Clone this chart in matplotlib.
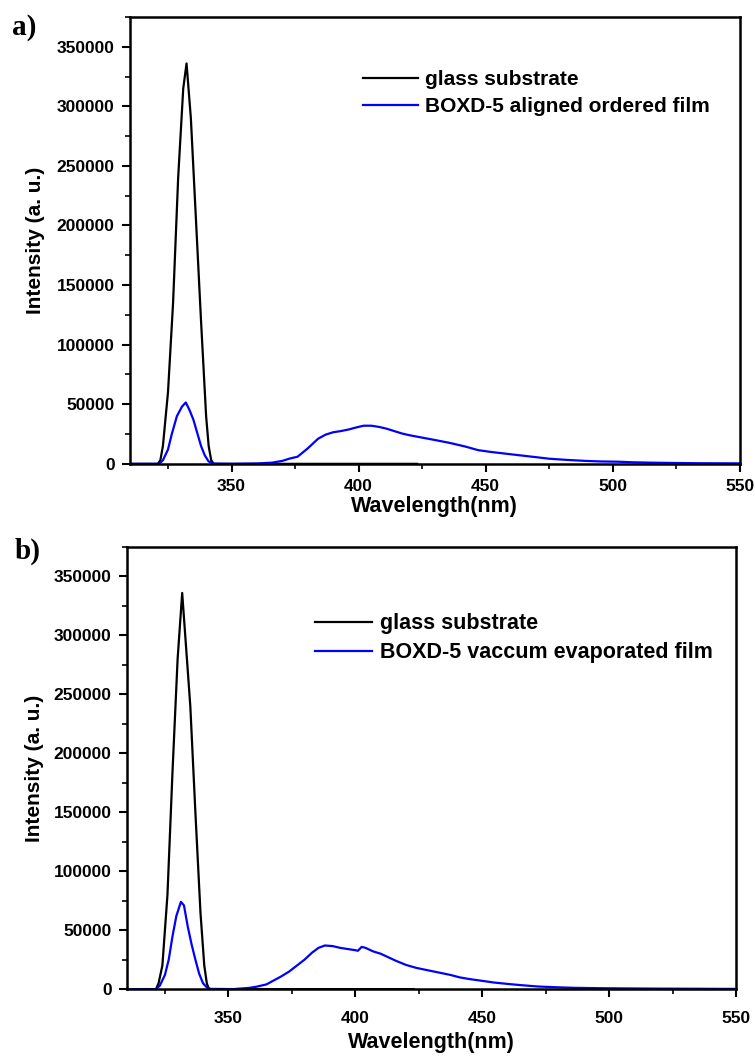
import numpy as np
import matplotlib
matplotlib.use('Agg')
import matplotlib.pyplot as plt
from matplotlib.ticker import MultipleLocator

plt.rcParams['font.family'] = ['Liberation Sans', 'DejaVu Sans']
plt.rcParams['font.weight'] = 'bold'

# glass substrate (panel a)
glass_a_wl = [310, 321, 322, 323, 325, 327, 329, 331, 332.3, 334, 336, 338, 340,
              341, 342, 343, 423]
glass_a_int = [0, 0, 3000, 15000, 60000, 135000, 240000, 315000, 336000, 290000,
               205000, 120000, 40000, 15000, 3000, 0, 0]

# BOXD-5 aligned ordered film (panel a)
film_a_wl = [310, 321.5, 323, 325, 326.5, 328.5, 330.5, 332, 333.5, 335, 336.5,
             338, 339.5, 341, 343, 350, 360, 366, 370, 373, 376, 380, 384, 387,
             390, 393, 396, 399, 402, 405, 408, 411, 414, 417, 420, 425, 430,
             436, 442, 447, 452, 456, 462, 469, 475, 482, 489, 495, 502, 508,
             515, 525, 535, 550]
film_a_int = [0, 0, 3000, 12000, 25000, 40000, 48000, 51500, 45000, 37000, 26000,
              15000, 7000, 2000, 200, 0, 300, 1000, 2500, 4500, 6000, 13000,
              21000, 24500, 26500, 27500, 28800, 30500, 32000, 32000, 31000,
              29500, 27500, 25500, 24000, 22000, 20000, 17500, 14500, 11500,
              10000, 9000, 7500, 5800, 4300, 3300, 2500, 2000, 1800, 1300, 1000,
              700, 500, 400]

# glass substrate (panel b)
glass_b_wl = [310, 321.5, 322.5, 324, 326, 328, 330, 331.8, 333, 335, 337, 339,
              340.5, 341.5, 342.3, 423]
glass_b_int = [0, 0, 5000, 20000, 80000, 185000, 280000, 336000, 300000, 240000,
               150000, 65000, 20000, 5000, 0, 0]

# BOXD-5 vaccum evaporated film (panel b)
film_b_wl = [310, 321.5, 323, 325, 326.5, 328, 329.5, 331.3, 332.5, 334, 335.5,
             337, 338.5, 340, 341.5, 343, 352, 358, 361, 365, 368, 371, 374, 377,
             380, 383, 385.5, 388, 391, 394, 397, 400, 401, 402.5, 404, 407, 410,
             413, 416, 420, 424, 428.5, 433, 437.5, 441, 445, 450, 454.5, 460,
             465, 472, 480, 486, 495, 505, 520, 535, 545, 550]
film_b_int = [0, 0, 3000, 12000, 25000, 45000, 62000, 74000, 71000, 53000, 38000,
              25000, 13000, 5000, 1500, 200, 0, 1000, 2000, 4000, 7500, 11000,
              15000, 20000, 25000, 31000, 35000, 37000, 36500, 35000, 34000,
              33000, 32500, 35800, 35000, 32000, 30000, 27000, 24000, 20500,
              18000, 16000, 14000, 12000, 10000, 8500, 7000, 5600, 4400, 3400,
              2200, 1500, 1100, 800, 600, 400, 300, 200, 200]

panels = [
    ('a)', 'BOXD-5 aligned ordered film', glass_a_wl, glass_a_int, film_a_wl, film_a_int),
    ('b)', 'BOXD-5 vaccum evaporated film', glass_b_wl, glass_b_int, film_b_wl, film_b_int),
]

fig = plt.figure(figsize=(7.55, 10.59), dpi=100)
ax_a = fig.add_axes([0.172, 0.562, 0.808, 0.422])
ax_b = fig.add_axes([0.168, 0.066, 0.807, 0.4175])

leg_pos = [(0.382, 0.881), (0.309, 0.850)]
leg_size = [15, 15.5]
tag_pos = [(0.016, 0.974), (0.020, 0.479)]
xpads = [5, 10]
xlabpads = [1, 4]
ylabpads = [8, 7]

for i, ax in enumerate([ax_a, ax_b]):
    tag, film_label, gw, gi, fw, fi = panels[i]
    ax.plot(gw, gi, color='black', lw=1.6, label='glass substrate')
    ax.plot(fw, fi, color='#0000ff', lw=1.6, label=film_label)
    ax.set_xlim(310, 550)
    ax.set_ylim(0, 375000)
    ax.xaxis.set_major_locator(MultipleLocator(50))
    ax.xaxis.set_minor_locator(MultipleLocator(25))
    ax.yaxis.set_major_locator(MultipleLocator(50000))
    ax.yaxis.set_minor_locator(MultipleLocator(25000))
    ax.tick_params(which='major', direction='out', length=6, width=1.5,
                   labelsize=12.5, pad=5)
    ax.tick_params(axis='x', which='major', pad=xpads[i])
    ax.tick_params(which='minor', direction='out', length=3.5, width=1.2)
    for lab in ax.get_xticklabels() + ax.get_yticklabels():
        lab.set_fontweight('bold')
    for s in ax.spines.values():
        s.set_linewidth(1.8)
    ax.set_xlabel('Wavelength(nm)', fontsize=15.5, fontweight='bold', labelpad=xlabpads[i])
    ax.set_ylabel('Intensity (a. u.)', fontsize=15, fontweight='bold', labelpad=ylabpads[i])
    ax.legend(loc='upper left', bbox_to_anchor=leg_pos[i], frameon=False,
              handlelength=2.65, handletextpad=0.35, borderpad=0, borderaxespad=0,
              labelspacing=0.38, prop={'weight': 'bold', 'size': leg_size[i]})
    fig.text(tag_pos[i][0], tag_pos[i][1], tag, fontsize=21, fontweight='bold',
             family=['Liberation Serif', 'DejaVu Serif'], va='center', ha='left')

fig.savefig('out.png', dpi=100)
